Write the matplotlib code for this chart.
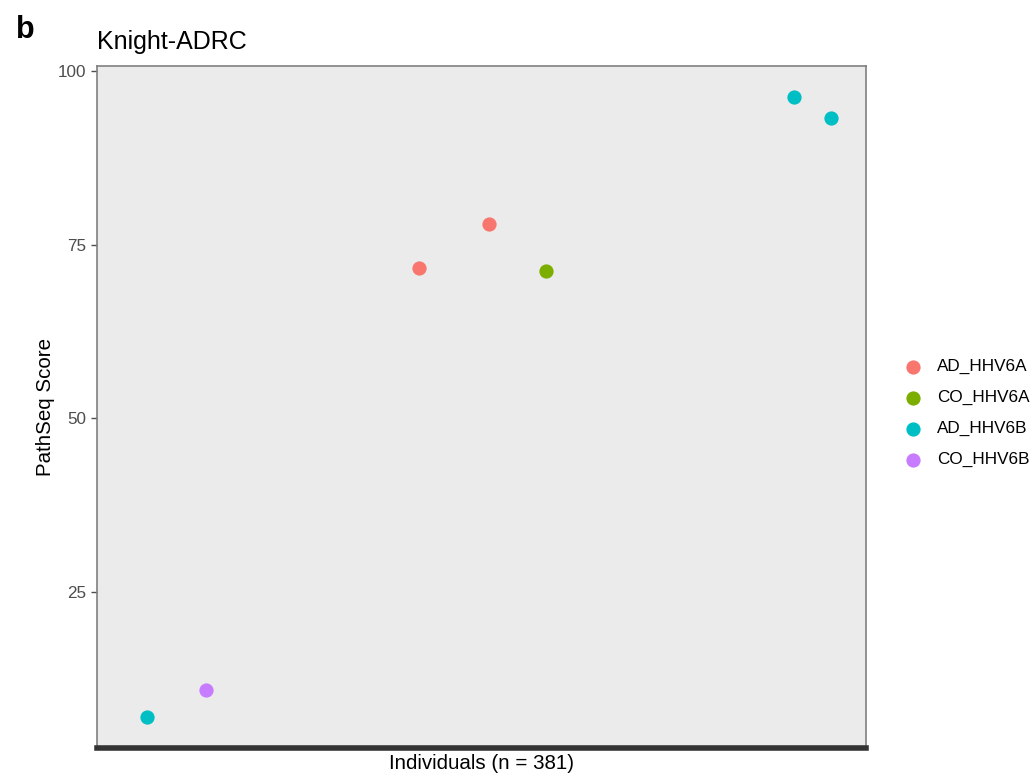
import matplotlib.pyplot as plt

plt.rcParams['font.family'] = ['Liberation Sans', 'DejaVu Sans']

# datos
groups = ['AD_HHV6A', 'CO_HHV6A', 'AD_HHV6B', 'CO_HHV6B']
colors = ['#F8766D', '#7CAE00', '#00BFC4', '#C77CFF']
n_individuals = 381
individual = [9, 41, 157, 195, 226, 361, 381]
score = [7.0, 10.9, 71.7, 78.0, 71.25, 96.25, 93.2]
group = ['AD_HHV6B', 'CO_HHV6B', 'AD_HHV6A', 'AD_HHV6A', 'CO_HHV6A', 'AD_HHV6B', 'AD_HHV6B']

fig = plt.figure(figsize=(10.36, 7.81), dpi=100)
ax = fig.add_axes([0.0936, 0.0423, 0.7424, 0.8732])
ax.set_facecolor('#EBEBEB')

for g, c in zip(groups, colors):
    xs = [x for x, gg in zip(individual, group) if gg == g]
    ys = [y for y, gg in zip(score, group) if gg == g]
    ax.scatter(xs, ys, s=105, color=c, label=g, linewidths=0, zorder=3)

# limites con expansion del 5% como ggplot
ymin, ymax = min(score), max(score)
yr = ymax - ymin
ax.set_ylim(ymin - 0.05 * yr, ymax + 0.05 * yr)
xr = n_individuals - 1
ax.set_xlim(1 - 0.05 * xr, n_individuals + 0.05 * xr)

ax.set_yticks([25, 50, 75, 100])
ax.set_xticks([])
ax.tick_params(axis='y', labelsize=12.3, colors='#4D4D4D', length=4, width=1)

for side in ['top', 'left', 'right']:
    ax.spines[side].set_color('#7F7F7F')
    ax.spines[side].set_linewidth(1.2)
ax.spines['bottom'].set_color('#333333')
ax.spines['bottom'].set_linewidth(4)

ax.set_ylabel('PathSeq Score', fontsize=14.8, labelpad=2)
ax.set_xlabel('Individuals (n = 381)', fontsize=14.8, labelpad=4)
ax.set_title('Knight-ADRC', fontsize=18, loc='left', pad=12)

fig.text(0.015, 0.962, 'b', fontsize=22, fontweight='bold', va='center')

leg = ax.legend(loc='center left', bbox_to_anchor=(0.8615, 0.471), bbox_transform=fig.transFigure,
                frameon=False, fontsize=12.3, handlelength=1.6, handletextpad=0.6,
                labelspacing=0.93, markerscale=1.0, borderaxespad=0)

fig.savefig('out.png', dpi=100)
